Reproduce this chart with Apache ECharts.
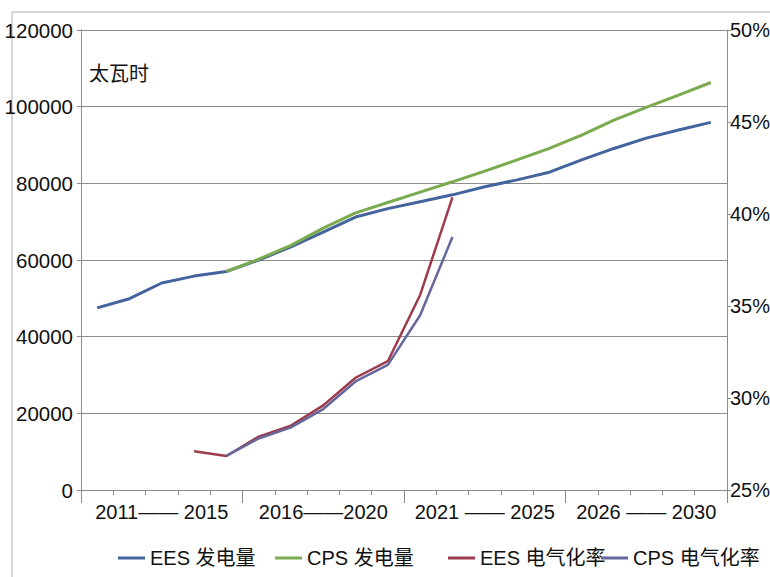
<!DOCTYPE html>
<html>
<head>
<meta charset="utf-8">
<script src="https://cdn.jsdelivr.net/npm/echarts@6/dist/echarts.min.js"></script>
<style>
html,body{margin:0;padding:0;background:#fff;}
#chart{width:770px;height:577px;}
</style>
</head>
<body>
<div id="chart"></div>
<script>
var years = ['2011','2012','2013','2014','2015','2016','2017','2018','2019','2020','2021','2022','2023','2024','2025','2026','2027','2028','2029','2030'];
var groupLabels = ['2011—— 2015','2016——2020','2021 —— 2025','2026 —— 2030'];
var leftTicks = {min:0, max:120000, interval:20000};
var rightTicks = {min:25, max:50, interval:5};
var seriesNames = ['EES 发电量','CPS 发电量','EES 电气化率','CPS 电气化率'];
var eesPower = [47500, 49900, 54000, 55800, 57000, 60000, 63400, 67300, 71200, 73400, 75200, 77000, 79100, 80900, 82900, 86100, 89100, 91800, 93900, 95900];
var cpsPower = [null, null, null, null, 57000, 60200, 63800, 68300, 72300, 75000, 77700, 80400, 83200, 86100, 89100, 92600, 96500, 99800, 103000, 106300];
var eesRate = [null, null, null, 27.1, 26.85, 27.9, 28.5, 29.6, 31.1, 32.0, 35.6, 40.9, null, null, null, null, null, null, null, null];
var cpsRate = [null, null, null, null, 26.85, 27.8, 28.4, 29.4, 30.9, 31.8, 34.5, 38.75, null, null, null, null, null, null, null, null];
var unitLabel = '太瓦时';

var FONT = "'Liberation Sans','Noto Sans CJK SC',sans-serif";
var colors = ['#44649e', '#7aab4f', '#9c3b4b', '#66679c'];
var gridColor = '#8c8c8c';

var chart = echarts.init(document.getElementById('chart'), null, {renderer:'svg'});

function legendAt(i, left){
  return {
    data:[seriesNames[i]], left:left, top:543, icon:'rect', itemWidth:27, itemHeight:3,
    itemGap:5, textStyle:{fontSize:20, color:'#111', fontFamily:FONT}
  };
}

chart.setOption({
  animation:false,
  backgroundColor:'#fff',
  color:colors,
  graphic:[
    {type:'rect', shape:{x:12, y:12, width:800, height:600}, style:{fill:'none', stroke:'#b0b0b0', lineWidth:1}, silent:true},
    {type:'text', left:89, top:62, style:{text:unitLabel, fontSize:20, fill:'#111', fontFamily:"'Noto Sans CJK SC',sans-serif"}}
  ],
  grid:{left:81, right:43, top:30, bottom:87, containLabel:false, outerBoundsMode:'none'},
  legend:[legendAt(0,113), legendAt(1,270), legendAt(2,443), legendAt(3,596)],
  xAxis:[
    {type:'category', data:years, boundaryGap:true, position:'bottom',
     axisLine:{lineStyle:{color:gridColor}}, axisTick:{show:true, interval:0, length:5, lineStyle:{color:gridColor}},
     axisLabel:{show:false}, splitLine:{show:false}},
    {type:'category', data:groupLabels, boundaryGap:true, position:'bottom',
     axisLine:{show:false}, axisTick:{show:true, interval:0, length:13, lineStyle:{color:gridColor}},
     axisLabel:{show:true, interval:0, fontSize:20, color:'#111', margin:12, fontFamily:FONT}, splitLine:{show:false}}
  ],
  yAxis:[
    {type:'value', min:leftTicks.min, max:leftTicks.max, interval:leftTicks.interval, position:'left',
     axisLine:{show:true, lineStyle:{color:gridColor}}, axisTick:{show:true, length:4, lineStyle:{color:gridColor}},
     axisLabel:{fontSize:20.5, color:'#111', margin:8, fontFamily:FONT, formatter:function(v){return String(v);}},
     splitLine:{show:true, lineStyle:{color:gridColor, width:1}}},
    {type:'value', min:rightTicks.min, max:rightTicks.max, interval:rightTicks.interval, position:'right',
     axisLine:{show:true, lineStyle:{color:gridColor}}, axisTick:{show:true, length:4, lineStyle:{color:gridColor}},
     axisLabel:{fontSize:20, color:'#111', margin:3, fontFamily:FONT, formatter:'{value}%'},
     splitLine:{show:false}}
  ],
  series:[
    {name:seriesNames[0], type:'line', data:eesPower, xAxisIndex:0, yAxisIndex:0, symbol:'none', lineStyle:{width:3, color:colors[0]}},
    {name:seriesNames[1], type:'line', data:cpsPower, xAxisIndex:0, yAxisIndex:0, symbol:'none', lineStyle:{width:3, color:colors[1]}},
    {name:seriesNames[2], type:'line', data:eesRate, xAxisIndex:0, yAxisIndex:1, symbol:'none', lineStyle:{width:2.5, color:colors[2]}},
    {name:seriesNames[3], type:'line', data:cpsRate, xAxisIndex:0, yAxisIndex:1, symbol:'none', lineStyle:{width:2.5, color:colors[3]}}
  ]
});
</script>
</body>
</html>
